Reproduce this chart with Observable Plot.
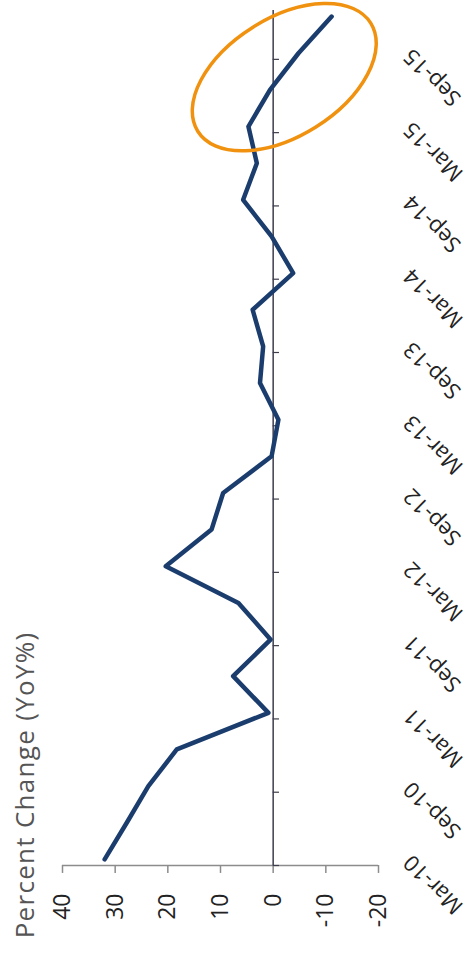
<!DOCTYPE html>
<html>
<head>
<meta charset="utf-8">
<script src="https://cdn.jsdelivr.net/npm/d3@7"></script>
<script src="https://cdn.jsdelivr.net/npm/@observablehq/plot@0.6"></script>
<style>
  html, body { margin: 0; padding: 0; background: #fff; }
  svg { display: block; }
</style>
</head>
<body>
<div id="chart"></div>
<script>
// ---- data ----
const quarters = ["Mar-10","Jun-10","Sep-10","Dec-10","Mar-11","Jun-11","Sep-11","Dec-11",
                  "Mar-12","Jun-12","Sep-12","Dec-12","Mar-13","Jun-13","Sep-13","Dec-13",
                  "Mar-14","Jun-14","Sep-14","Dec-14","Mar-15","Jun-15","Sep-15","Dec-15"];
const yoyValues = [32, 27.8, 23.7, 18.3, 0.9, 7.6, 0.5, 6.6,
                   20.4, 11.7, 9.5, 0.3, -1.0, 2.5, 1.9, 3.9,
                   -3.8, 0.3, 5.7, 3.1, 4.7, 0.6, -4.8, -11.1];
const dateTickLabels = ["Mar-10","Sep-10","Mar-11","Sep-11","Mar-12","Sep-12",
                        "Mar-13","Sep-13","Mar-14","Sep-14","Mar-15","Sep-15"];
const valueTicks = [40, 30, 20, 10, 0, -10, -20];
const valueTickLabels = ["40", "30", "20", "10", "0", "-10", "-20"];
const axisTitle = "Percent Change (YoY%)";

// months since Mar-10 (points sit mid-month)
const monthOf = (label) => {
  const mm = {Mar: 0, Jun: 3, Sep: 6, Dec: 9}[label.slice(0, 3)];
  const yr = +label.slice(4) - 10;
  return yr * 12 + mm;
};
const series = quarters.map((q, i) => ({q, m: monthOf(q) + 0.5, v: yoyValues[i]}));
const dateTicks = dateTickLabels.map((d) => ({label: d, m: monthOf(d)}));

// highlight ellipse annotation (data-space centre, pixel radii)
const highlight = {v: -2.2, m: 64.5, rx: 102, ry: 59, angle: -32};

const ellipseMark = (index, scales) => {
  const cx = scales.x(highlight.v), cy = scales.y(highlight.m);
  const e = d3.create("svg:ellipse")
    .attr("cx", cx).attr("cy", cy)
    .attr("rx", highlight.rx).attr("ry", highlight.ry)
    .attr("transform", `rotate(${highlight.angle},${cx},${cy})`)
    .attr("fill", "none")
    .attr("stroke", "#f0920f")
    .attr("stroke-width", 3.5);
  return e.node();
};

const chart = Plot.plot({
  width: 475,
  height: 954,
  marginLeft: 62,
  marginRight: 97,
  marginTop: 10,
  marginBottom: 89,
  style: {fontFamily: "'Open Sans', sans-serif", background: "#fff", overflow: "visible"},
  x: {domain: [40, -20], axis: null},
  y: {domain: [0, 70], axis: null},
  marks: [
    // value axis (bottom)
    Plot.ruleY([0], {stroke: "#8c8c8c", strokeWidth: 1.5}),
    Plot.ruleX(valueTicks, {y1: 0, y2: -0.65, stroke: "#8c8c8c", strokeWidth: 1.5}),
    Plot.text(valueTickLabels, {
      x: (d, i) => valueTicks[i], text: (d) => d,
      frameAnchor: "bottom", dy: 28, rotate: -90,
      textAnchor: "end", lineAnchor: "middle",
      fontSize: 23, fill: "#222"
    }),
    // zero line / date axis
    Plot.ruleX([0], {y1: 0, y2: 70, stroke: "#3d3d4d", strokeWidth: 1.5}),
    Plot.ruleY(dateTicks, {y: "m", x1: 0, x2: -1.2, stroke: "#3d3d4d", strokeWidth: 1.2}),
    Plot.text(dateTicks, {
      y: "m", text: "label",
      frameAnchor: "right", dx: 29, dy: -7, rotate: -135,
      textAnchor: "end", lineAnchor: "middle",
      fontSize: 22, fill: "#222"
    }),
    // series
    Plot.line(series, {x: "v", y: "m", stroke: "#1b3d6e", strokeWidth: 4.5, strokeLinejoin: "round", strokeLinecap: "round"}),
    // annotation
    ellipseMark,
    // axis title
    Plot.text([axisTitle], {
      y: [6.6], text: (d) => d,
      frameAnchor: "left", dx: -37, rotate: -90,
      textAnchor: "middle", lineAnchor: "middle",
      fontSize: 26, fill: "#555"
    })
  ]
});
d3.select(chart).selectAll("text")
  .filter(function () { return this.textContent === axisTitle; })
  .attr("letter-spacing", "1.3px");
document.getElementById("chart").appendChild(chart);
</script>
</body>
</html>
